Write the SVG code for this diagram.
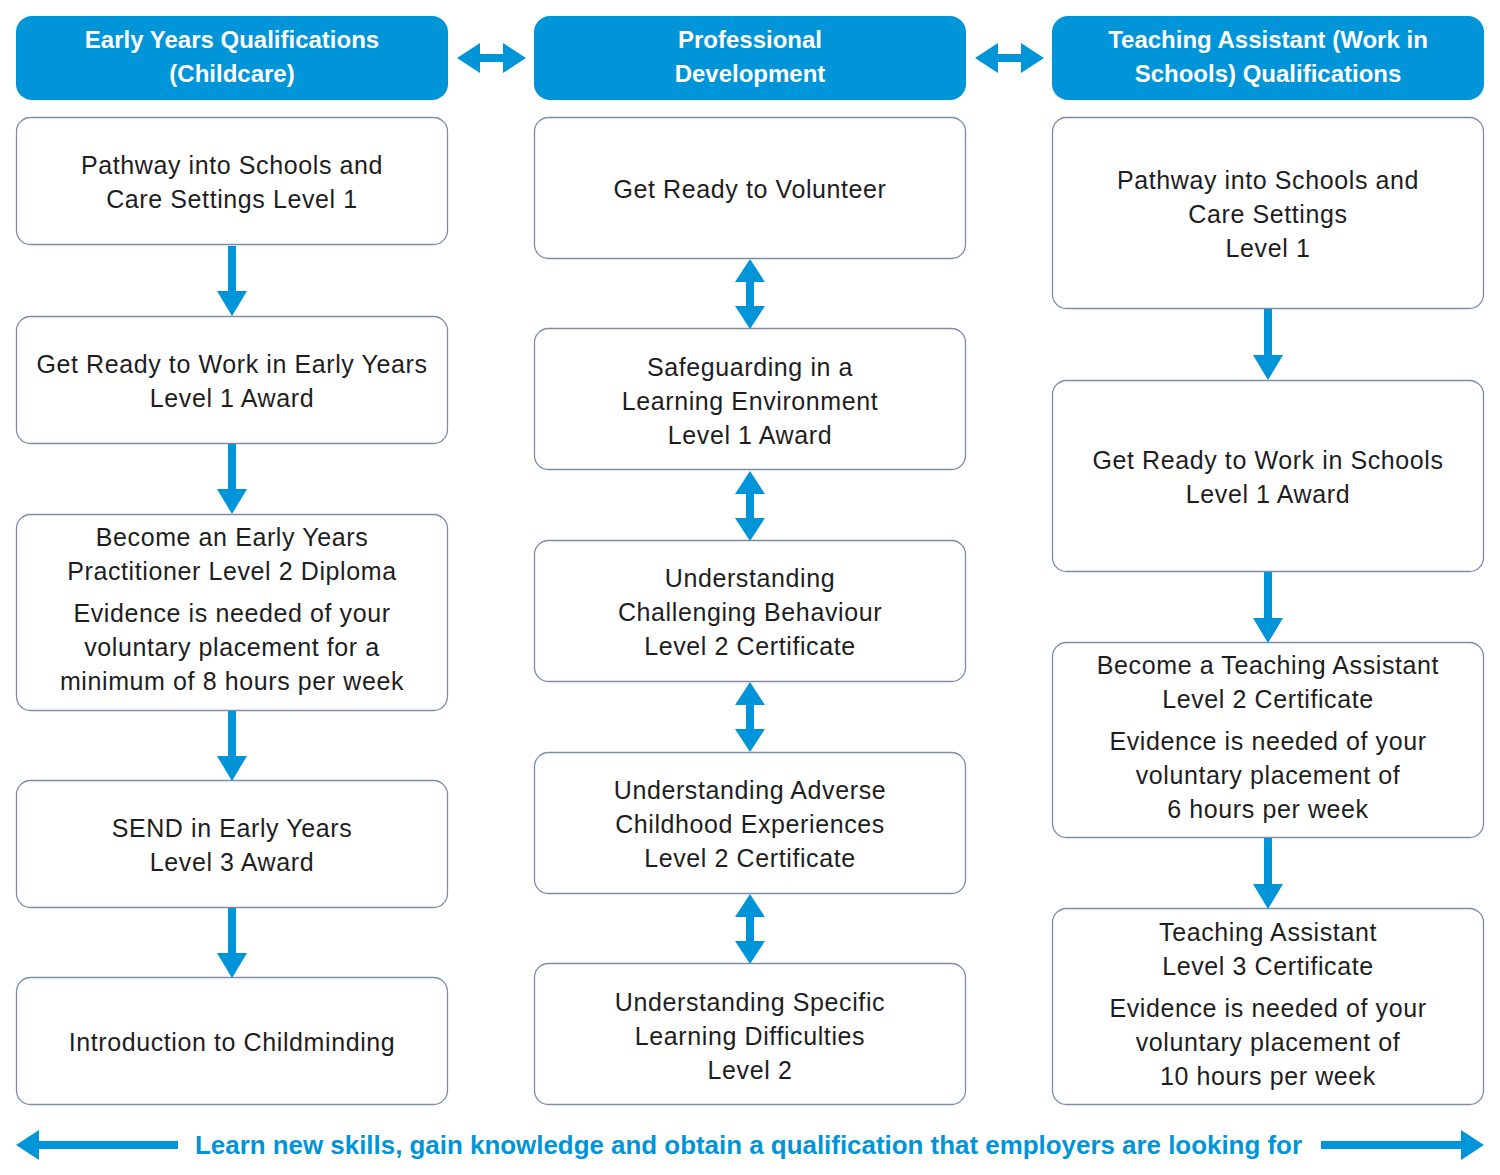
<svg xmlns="http://www.w3.org/2000/svg" width="1500" height="1175" viewBox="0 0 1500 1175">
<style>
.hdr{fill:#0094d9}
.box{fill:#fff;stroke:#7d8ca8;stroke-width:1.3}
.ht{font-family:"Liberation Sans",Arial,sans-serif;font-weight:bold;font-size:24px;fill:#fff;text-anchor:middle}
.t{font-family:"Liberation Sans",Arial,sans-serif;font-size:25px;letter-spacing:0.6px;fill:#1e1e1e;text-anchor:middle}
.ft{font-family:"Liberation Sans",Arial,sans-serif;font-weight:bold;font-size:25px;fill:#0094d9}
.ar{fill:#0094d9}
</style>
<defs>
<path id="vdbl" d="M0,0 L15,23 H4 V47 H15 L0,70 L-15,47 H-4 V23 H-15 Z"/>
<path id="hdbl" d="M0,0 L23,-15 V-4 H46 V-15 L69,0 L46,15 V4 H23 V15 Z"/>
</defs>

<!-- Column 1 -->
<g id="h1"><rect class="hdr" x="16" y="16" width="432" height="84" rx="16"/><text class="ht" x="232" y="48">Early Years Qualifications</text><text class="ht" x="232" y="82">(Childcare)</text></g>
<g id="c1n1"><rect class="box" x="16.5" y="117.5" width="431" height="127" rx="14"/><text class="t" x="232" y="174">Pathway into Schools and</text><text class="t" x="232" y="208">Care Settings Level 1</text></g>
<g id="c1n2"><rect class="box" x="16.5" y="316.5" width="431" height="127" rx="14"/><text class="t" x="232" y="373">Get Ready to Work in Early Years</text><text class="t" x="232" y="407">Level 1 Award</text></g>
<g id="c1n3"><rect class="box" x="16.5" y="514.5" width="431" height="196" rx="14"/><text class="t" x="232" y="546">Become an Early Years</text><text class="t" x="232" y="580">Practitioner Level 2 Diploma</text><text class="t" x="232" y="622">Evidence is needed of your</text><text class="t" x="232" y="656">voluntary placement for a</text><text class="t" x="232" y="690">minimum of 8 hours per week</text></g>
<g id="c1n4"><rect class="box" x="16.5" y="780.5" width="431" height="127" rx="14"/><text class="t" x="232" y="837">SEND in Early Years</text><text class="t" x="232" y="871">Level 3 Award</text></g>
<g id="c1n5"><rect class="box" x="16.5" y="977.5" width="431" height="127" rx="14"/><text class="t" x="232" y="1051">Introduction to Childminding</text></g>

<!-- Column 2 -->
<g id="h2"><rect class="hdr" x="534" y="16" width="432" height="84" rx="16"/><text class="ht" x="750" y="48">Professional</text><text class="ht" x="750" y="82">Development</text></g>
<g id="c2n1"><rect class="box" x="534.5" y="117.5" width="431" height="141" rx="14"/><text class="t" x="750" y="198">Get Ready to Volunteer</text></g>
<g id="c2n2"><rect class="box" x="534.5" y="328.5" width="431" height="141" rx="14"/><text class="t" x="750" y="376">Safeguarding in a</text><text class="t" x="750" y="410">Learning Environment</text><text class="t" x="750" y="444">Level 1 Award</text></g>
<g id="c2n3"><rect class="box" x="534.5" y="540.5" width="431" height="141" rx="14"/><text class="t" x="750" y="587">Understanding</text><text class="t" x="750" y="621">Challenging Behaviour</text><text class="t" x="750" y="655">Level 2 Certificate</text></g>
<g id="c2n4"><rect class="box" x="534.5" y="752.5" width="431" height="141" rx="14"/><text class="t" x="750" y="799">Understanding Adverse</text><text class="t" x="750" y="833">Childhood Experiences</text><text class="t" x="750" y="867">Level 2 Certificate</text></g>
<g id="c2n5"><rect class="box" x="534.5" y="963.5" width="431" height="141" rx="14"/><text class="t" x="750" y="1011">Understanding Specific</text><text class="t" x="750" y="1045">Learning Difficulties</text><text class="t" x="750" y="1079">Level 2</text></g>

<!-- Column 3 -->
<g id="h3"><rect class="hdr" x="1052" y="16" width="432" height="84" rx="16"/><text class="ht" x="1268" y="48">Teaching Assistant (Work in</text><text class="ht" x="1268" y="82">Schools) Qualifications</text></g>
<g id="c3n1"><rect class="box" x="1052.5" y="117.5" width="431" height="191" rx="14"/><text class="t" x="1268" y="189">Pathway into Schools and</text><text class="t" x="1268" y="223">Care Settings</text><text class="t" x="1268" y="257">Level 1</text></g>
<g id="c3n2"><rect class="box" x="1052.5" y="380.5" width="431" height="191" rx="14"/><text class="t" x="1268" y="469">Get Ready to Work in Schools</text><text class="t" x="1268" y="503">Level 1 Award</text></g>
<g id="c3n3"><rect class="box" x="1052.5" y="642.5" width="431" height="195" rx="14"/><text class="t" x="1268" y="674">Become a Teaching Assistant</text><text class="t" x="1268" y="708">Level 2 Certificate</text><text class="t" x="1268" y="750">Evidence is needed of your</text><text class="t" x="1268" y="784">voluntary placement of</text><text class="t" x="1268" y="818">6 hours per week</text></g>
<g id="c3n4"><rect class="box" x="1052.5" y="908.5" width="431" height="196" rx="14"/><text class="t" x="1268" y="941">Teaching Assistant</text><text class="t" x="1268" y="975">Level 3 Certificate</text><text class="t" x="1268" y="1017">Evidence is needed of your</text><text class="t" x="1268" y="1051">voluntary placement of</text><text class="t" x="1268" y="1085">10 hours per week</text></g>

<!-- Connectors -->
<g id="connectors" class="ar">
<use href="#hdbl" x="457" y="58"/>
<use href="#hdbl" x="975" y="58"/>
<path d="M228,246 H236 V291 H247 L232,316 L217,291 H228 Z"/>
<path d="M228,444 H236 V489 H247 L232,514 L217,489 H228 Z"/>
<path d="M228,711 H236 V756 H247 L232,781 L217,756 H228 Z"/>
<path d="M228,908 H236 V953 H247 L232,978 L217,953 H228 Z"/>
<use href="#vdbl" x="750" y="259"/>
<use href="#vdbl" x="750" y="471"/>
<use href="#vdbl" x="750" y="682"/>
<use href="#vdbl" x="750" y="894"/>
<path d="M1264,309 H1272 V355 H1283 L1268,380 L1253,355 H1264 Z"/>
<path d="M1264,572 H1272 V618 H1283 L1268,643 L1253,618 H1264 Z"/>
<path d="M1264,838 H1272 V884 H1283 L1268,909 L1253,884 H1264 Z"/>
<path d="M16,1145 L39,1130 V1141 H178 V1149 H39 V1160 Z"/>
<path d="M1484,1145 L1461,1130 V1141 H1321 V1149 H1461 V1160 Z"/>
</g>
<text class="ft" x="195" y="1154" textLength="1107" lengthAdjust="spacingAndGlyphs">Learn new skills, gain knowledge and obtain a qualification that employers are looking for</text>
</svg>
